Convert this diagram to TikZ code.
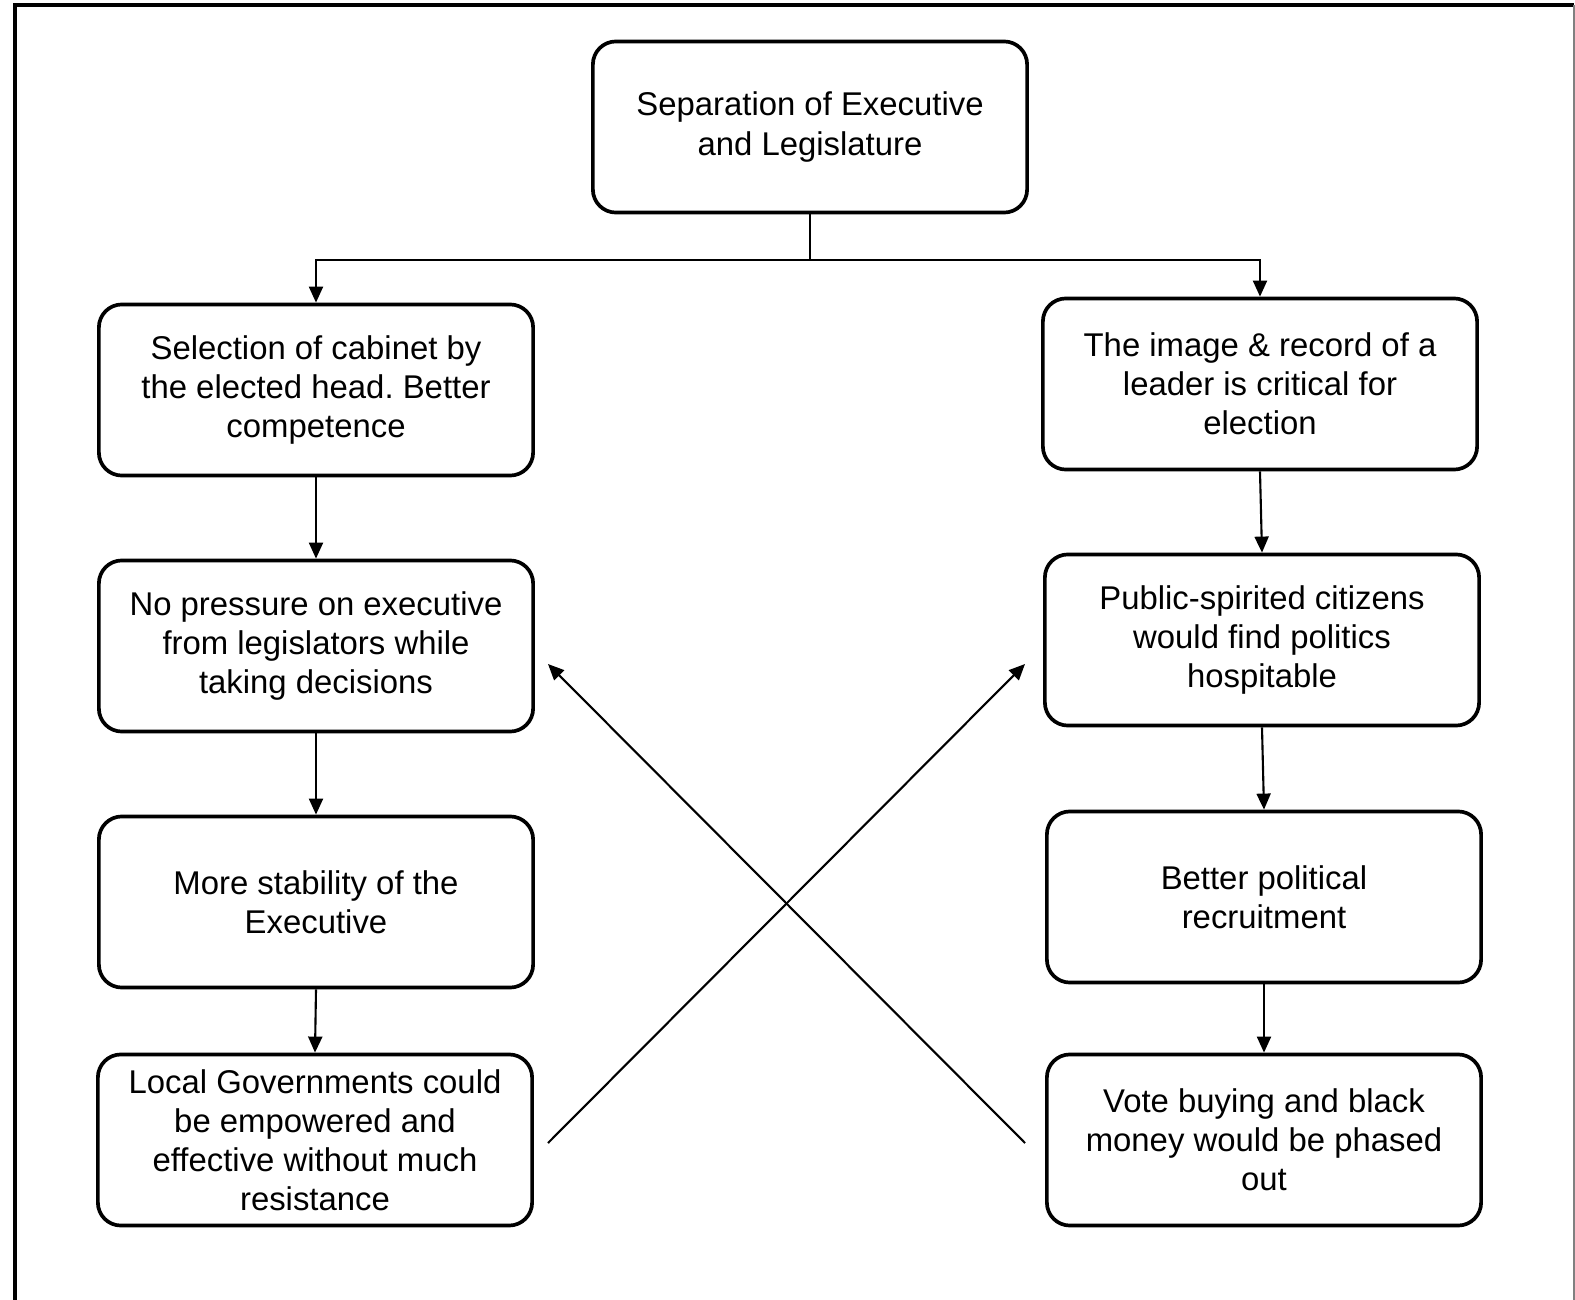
\documentclass[tikz,border=0pt]{standalone}
\usepackage{fontspec}
\setmainfont{Liberation Sans}
\frenchspacing
\usetikzlibrary{arrows.meta, positioning}

\begin{document}
\begin{tikzpicture}[x=0.01cm, y=-0.01cm,
                    box/.style={draw, line width=1.05pt, rounded corners=0.23cm,
                      minimum width=4.34cm, minimum height=1.71cm, inner sep=0pt,
                      align=center, font=\fontsize{9.35}{11.1}\selectfont},
                    link/.style={-{Triangle[length=0.16cm, width=0.14cm]}, line width=0.6pt}]

  \useasboundingbox (0,0) rectangle (1575,1300);

  % frame
  \draw[line width=1.4pt] (15,1300) -- (15,5) -- (1574,5);
  \draw[gray, line width=0.5pt] (1574,5) -- (1574,1300);

  \node[box] at (810,127)    (top)   {Separation of Executive\\and Legislature};

  \node[box] at (316,390)    (sel)   {Selection of cabinet by\\the elected head. Better\\competence};
  \node[box] at (316,646)    (press) {No pressure on executive\\from legislators while\\taking decisions};
  \node[box] at (316,902)    (stab)  {More stability of the\\Executive};
  \node[box] at (315,1140)   (local) {Local Governments could\\be empowered and\\effective without much\\resistance};

  \node[box] at (1260,384)   (image) {The image \& record of a\\leader is critical for\\election};
  \node[box] at (1262,640)   (pub)   {Public-spirited citizens\\would find politics\\hospitable};
  \node[box] at (1264,897)   (recr)  {Better political\\recruitment};
  \node[box] at (1264,1140)  (vote)  {Vote buying and black\\money would be phased\\out};

  \coordinate (fork) at (810,260);
  \coordinate (a1) at (548,1143);
  \coordinate (a2) at (1025,664);
  \coordinate (b1) at (1025,1143);
  \coordinate (b2) at (548,664);

  \draw[line width=0.6pt] (top) -- (fork);
  \draw[link] (fork) -| (sel.north);
  \draw[link] (fork) -| (image.north);

  \draw[link] (sel) -- (press);
  \draw[link] (press) -- (stab);
  \draw[link] (stab.south) -- (local.north);

  \draw[link] (image.south) -- (pub.north);
  \draw[link] (pub.south) -- (recr.north);
  \draw[link] (recr) -- (vote);

  \draw[link] (a1) -- (a2);
  \draw[link] (b1) -- (b2);

\end{tikzpicture}
\end{document}
